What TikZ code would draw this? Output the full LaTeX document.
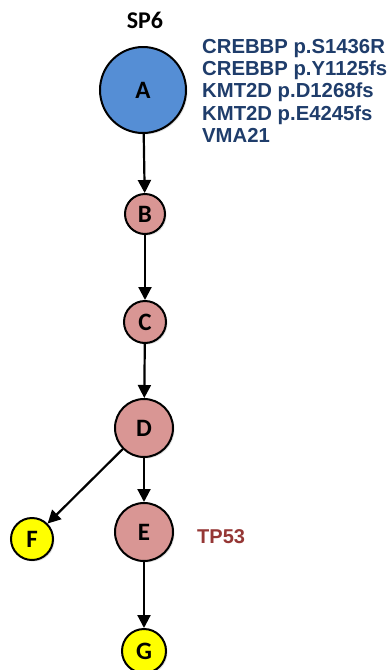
\documentclass[tikz,border=0pt]{standalone}
\usepackage{fontspec}
\setmainfont{Liberation Sans}
\newfontfamily\calib{Carlito}
\usetikzlibrary{arrows.meta,shadows}
\definecolor{nodeblue}{HTML}{558ED5}
\definecolor{nodepink}{HTML}{D99694}
\definecolor{nodeyellow}{HTML}{FFFF00}
\definecolor{muttext}{HTML}{1F3D6B}
\definecolor{tptext}{HTML}{953735}
\begin{document}
\begin{tikzpicture}[x=1pt,y=-1pt,
  vert/.style={circle,draw=black,line width=2pt,inner sep=0pt,
    font=\calib\bfseries\fontsize{25}{25}\selectfont,
    drop shadow={opacity=0.25,shadow xshift=1.5pt,shadow yshift=-1.5pt}},
  edge/.style={line width=2.2pt,-{Triangle[length=13pt,width=13pt]}}]
\useasboundingbox (0,0) rectangle (391,670);
\node[vert,fill=nodeblue,minimum size=86pt] (A) at (143,90) {A};
\node[vert,fill=nodepink,minimum size=40pt] (B) at (145,214) {B};
\node[vert,fill=nodepink,minimum size=42pt] (C) at (145,322) {C};
\node[vert,fill=nodepink,minimum size=58pt] (D) at (144,428) {D};
\node[vert,fill=nodepink,minimum size=58pt] (E) at (144,532) {E};
\node[vert,fill=nodeyellow,minimum size=42pt] (F) at (32,539) {F};
\node[vert,fill=nodeyellow,minimum size=44pt] (G) at (144,651) {G};
\node[font=\calib\bfseries\fontsize{24}{24}\selectfont] (sp) at (145,20) {SP6};
\node[anchor=north west,inner sep=0pt,align=left,text=muttext,
  font=\bfseries\fontsize{20.3}{22.3}\selectfont] (mut) at (202,39)
  {CREBBP p.S1436R\\CREBBP p.Y1125fs\\KMT2D p.D1268fs\\KMT2D p.E4245fs\\VMA21};
\node[anchor=west,inner sep=0pt,text=tptext,
  font=\bfseries\fontsize{20}{20}\selectfont] (tp) at (197,537) {TP53};
\draw[edge] (A) -- (B);
\draw[edge] (B) -- (C);
\draw[edge] (C) -- (D);
\draw[edge] (D) -- (E);
\draw[edge] (D) -- (F);
\draw[edge] (E) -- (G);
\end{tikzpicture}
\end{document}
